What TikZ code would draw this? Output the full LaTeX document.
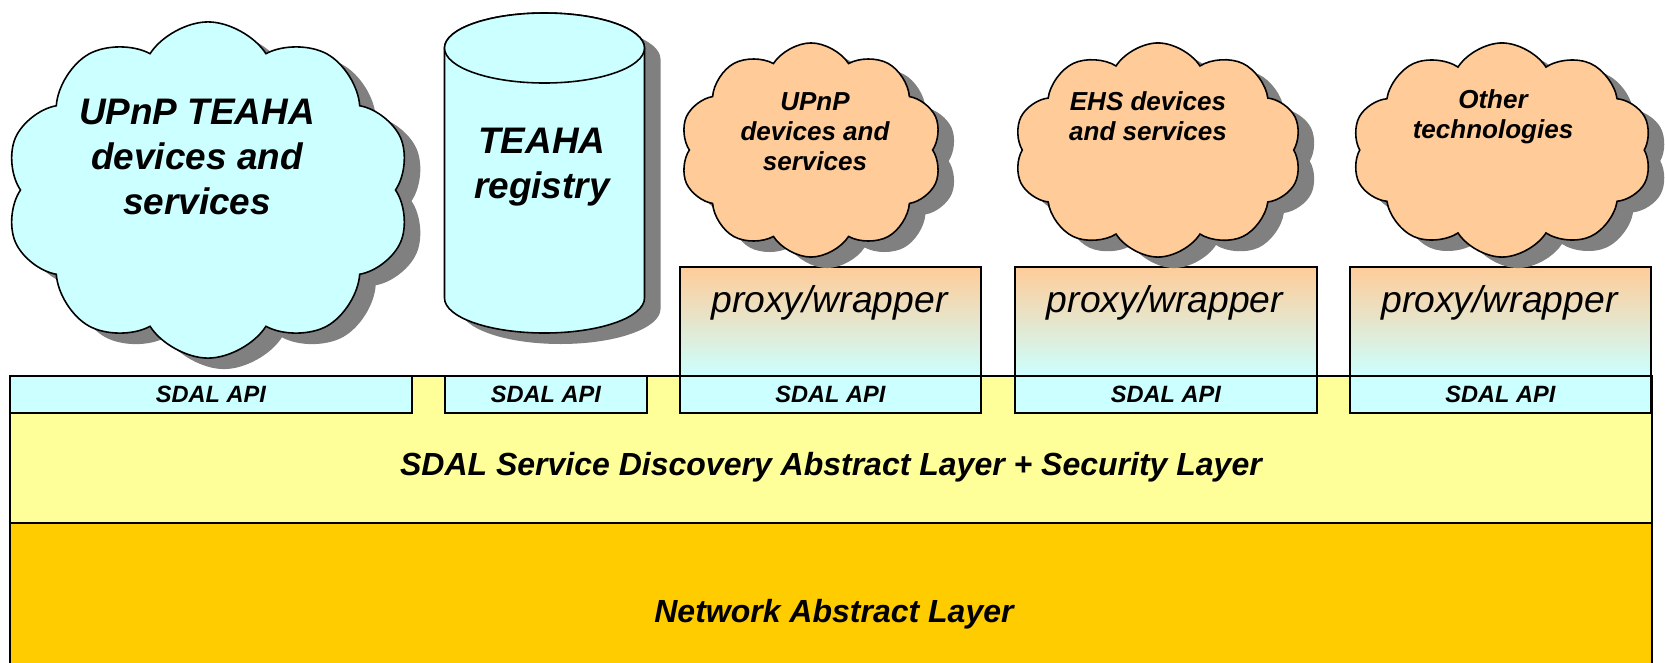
\documentclass[tikz,border=0pt]{standalone}
\usepackage{fontspec}
\setmainfont{Liberation Sans}
\usetikzlibrary{shapes.symbols,shadows}
\definecolor{cyanc}{HTML}{CCFFFF}
\definecolor{peach}{HTML}{FFCC99}
\definecolor{yelc}{HTML}{FFFF99}
\definecolor{netc}{HTML}{FFCC00}
\definecolor{shadc}{HTML}{808080}
\begin{document}
\begin{tikzpicture}[x=0.01cm,y=-0.01cm,line width=0.45pt,
  shad/.style={general shadow={shadow xshift=0.16cm,shadow yshift=-0.11cm,fill=shadc}},
  cloudbox/.style={cloud,cloud puffs=10,cloud puff arc=115,cloud ignores aspect,draw=black,inner sep=0pt,shad},
  bigtxt/.style={font=\fontsize{10.5}{12.8}\selectfont\bfseries\itshape,align=center},
  smalltxt/.style={font=\fontsize{7.4}{8.5}\selectfont\bfseries\itshape,align=center},
  apibox/.style={draw=black,fill=cyanc,anchor=north west,minimum height=0.37cm,inner sep=0pt,
    font=\fontsize{6.7}{8}\selectfont\bfseries\itshape},
  proxybox/.style={draw=black,top color=peach,bottom color=cyanc,anchor=north west,minimum height=1.09cm,inner sep=0pt},
  proxytxt/.style={font=\fontsize{10.6}{12}\selectfont\itshape,anchor=base},
  layertxt/.style={font=\fontsize{9.1}{11}\selectfont\bfseries\itshape,anchor=base},
  layerbox/.style={draw=black,anchor=north west,minimum width=16.41cm,inner sep=0pt}
]
\useasboundingbox (0,0) rectangle (1665,663);
% layers
\node[layerbox,fill=yelc,minimum height=1.47cm] (sdal) at (9,375) {};
\node[layerbox,fill=netc,minimum height=1.60cm] (net) at (9,522) {};
\node[layertxt] (sdalt) at (831,475) {SDAL Service Discovery Abstract Layer + Security Layer};
\node[layertxt] (nett) at (834,622) {Network Abstract Layer};
% API boxes
\node[apibox,minimum width=4.02cm] (api1) at (9,375) {SDAL API};
\node[apibox,minimum width=2.02cm] (api2) at (444,375) {SDAL API};
\node[apibox,minimum width=3.01cm] (api3) at (679,375) {SDAL API};
\node[apibox,minimum width=3.02cm] (api4) at (1014,375) {SDAL API};
\node[apibox,minimum width=3.01cm] (api5) at (1349,375) {SDAL API};
% proxy boxes
\node[proxybox,minimum width=3.01cm] (px1) at (679,266) {};
\node[proxybox,minimum width=3.02cm] (px2) at (1014,266) {};
\node[proxybox,minimum width=3.01cm] (px3) at (1349,266) {};
\node[proxytxt] (px1t) at (829.5,312) {proxy/wrapper};
\node[proxytxt] (px2t) at (1165,312) {proxy/wrapper};
\node[proxytxt] (px3t) at (1499.5,312) {proxy/wrapper};
% cylinder
\fill[shadc,shift={(16,11)}] (444.5,48) -- (444.5,298) arc[start angle=180,end angle=0,x radius=100,y radius=35]
  -- (644.5,48) arc[start angle=0,end angle=-180,x radius=100,y radius=35] -- cycle;
\draw[fill=cyanc] (444.5,48) -- (444.5,298) arc[start angle=180,end angle=0,x radius=100,y radius=35]
  -- (644.5,48) arc[start angle=0,end angle=-180,x radius=100,y radius=35] -- cycle;
\draw[fill=cyanc] (544.5,48) ellipse[x radius=100,y radius=35];
\node[bigtxt] (cylt) at (542,167) {TEAHA\\registry};
% clouds
\node[cloudbox,fill=cyanc,minimum width=4.05cm,minimum height=3.36cm] (cl1) at (208,190) {};
\node[bigtxt] (cl1t) at (197,157) {UPnP TEAHA\\devices and\\services};
\node[cloudbox,fill=peach,minimum width=2.62cm,minimum height=2.14cm] (cl2) at (811,150) {};
\node[smalltxt] (cl2t) at (815,132) {UPnP\\devices and\\services};
\node[cloudbox,fill=peach,minimum width=2.88cm,minimum height=2.14cm] (cl3) at (1158,150) {};
\node[smalltxt] (cl3t) at (1148,116) {EHS devices\\and services};
\node[cloudbox,fill=peach,minimum width=3.0cm,minimum height=2.14cm] (cl4) at (1502,150) {};
\node[smalltxt] (cl4t) at (1493,117) {Other\\technologies};
\end{tikzpicture}
\end{document}
